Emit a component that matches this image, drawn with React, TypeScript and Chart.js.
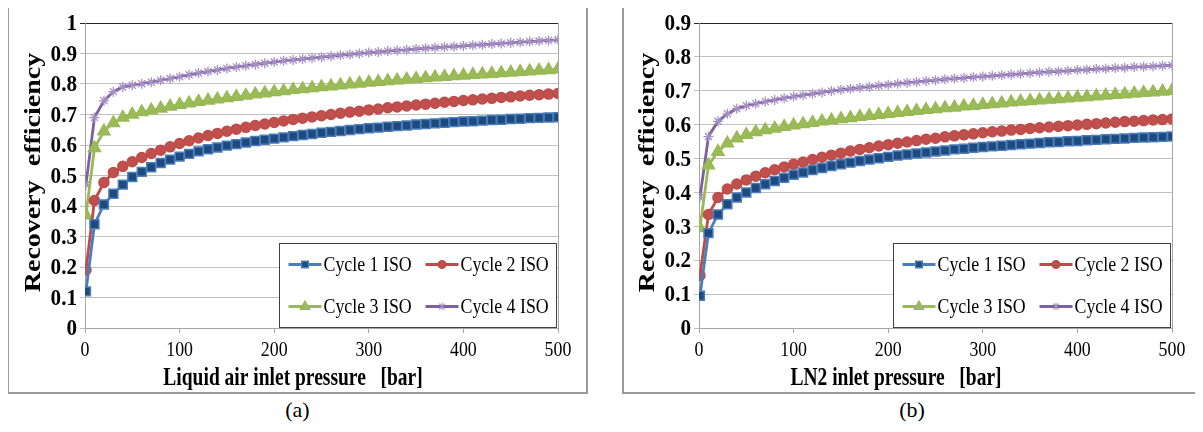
import React, { useEffect, useRef } from 'react';
import { Chart, registerables } from 'chart.js';
Chart.register(...registerables);

// ---------- data ----------
const pressure = [1, 10, 20, 30, 40, 50, 60, 70, 80, 90, 100, 110, 120, 130, 140, 150, 160, 170, 180, 190, 200, 210, 220, 230, 240, 250, 260, 270, 280, 290, 300, 310, 320, 330, 340, 350, 360, 370, 380, 390, 400, 410, 420, 430, 440, 450, 460, 470, 480, 490, 500];

const seriesNames = ['Cycle 1 ISO', 'Cycle 2 ISO', 'Cycle 3 ISO', 'Cycle 4 ISO'];

// (a) Liquid air
const airCycle1 = [0.12, 0.34, 0.405, 0.44, 0.47, 0.495, 0.512, 0.527, 0.541, 0.552, 0.562, 0.571, 0.579, 0.586, 0.592, 0.598, 0.603, 0.608, 0.613, 0.617, 0.621, 0.625, 0.629, 0.633, 0.636, 0.64, 0.643, 0.646, 0.649, 0.652, 0.655, 0.657, 0.66, 0.662, 0.664, 0.667, 0.669, 0.671, 0.673, 0.675, 0.677, 0.678, 0.68, 0.682, 0.683, 0.685, 0.686, 0.688, 0.689, 0.69, 0.691];
const airCycle2 = [0.19, 0.418, 0.477, 0.51, 0.53, 0.545, 0.559, 0.572, 0.583, 0.594, 0.605, 0.614, 0.623, 0.631, 0.638, 0.645, 0.652, 0.658, 0.664, 0.669, 0.674, 0.679, 0.684, 0.688, 0.692, 0.696, 0.7, 0.704, 0.708, 0.711, 0.715, 0.718, 0.722, 0.725, 0.728, 0.731, 0.734, 0.737, 0.74, 0.743, 0.746, 0.748, 0.751, 0.753, 0.756, 0.758, 0.761, 0.763, 0.765, 0.767, 0.769];
const airCycle3 = [0.37, 0.59, 0.645, 0.672, 0.69, 0.7, 0.708, 0.714, 0.72, 0.726, 0.732, 0.737, 0.742, 0.746, 0.75, 0.754, 0.758, 0.762, 0.766, 0.77, 0.774, 0.777, 0.781, 0.784, 0.787, 0.79, 0.793, 0.796, 0.799, 0.802, 0.805, 0.807, 0.81, 0.812, 0.815, 0.817, 0.82, 0.822, 0.824, 0.826, 0.828, 0.83, 0.832, 0.834, 0.836, 0.838, 0.84, 0.842, 0.844, 0.846, 0.848];
const airCycle4 = [0.47, 0.69, 0.745, 0.775, 0.79, 0.796, 0.801, 0.806, 0.812, 0.818, 0.824, 0.83, 0.836, 0.841, 0.846, 0.851, 0.856, 0.86, 0.864, 0.868, 0.872, 0.876, 0.879, 0.882, 0.885, 0.888, 0.891, 0.894, 0.897, 0.9, 0.903, 0.905, 0.908, 0.91, 0.912, 0.915, 0.917, 0.919, 0.921, 0.923, 0.925, 0.927, 0.929, 0.931, 0.933, 0.935, 0.937, 0.939, 0.941, 0.943, 0.945];

// (b) LN2
const ln2Cycle1 = [0.095, 0.28, 0.335, 0.365, 0.385, 0.4, 0.413, 0.424, 0.434, 0.443, 0.452, 0.459, 0.466, 0.472, 0.478, 0.483, 0.488, 0.493, 0.497, 0.501, 0.505, 0.509, 0.512, 0.515, 0.518, 0.521, 0.524, 0.527, 0.529, 0.532, 0.534, 0.536, 0.538, 0.54, 0.542, 0.544, 0.546, 0.548, 0.549, 0.551, 0.552, 0.554, 0.555, 0.557, 0.558, 0.559, 0.561, 0.562, 0.563, 0.564, 0.565];
const ln2Cycle2 = [0.155, 0.335, 0.385, 0.41, 0.425, 0.437, 0.448, 0.458, 0.467, 0.475, 0.483, 0.49, 0.497, 0.504, 0.51, 0.516, 0.522, 0.527, 0.532, 0.537, 0.541, 0.545, 0.549, 0.553, 0.557, 0.56, 0.564, 0.567, 0.57, 0.573, 0.576, 0.579, 0.581, 0.584, 0.586, 0.589, 0.591, 0.593, 0.595, 0.597, 0.599, 0.601, 0.603, 0.605, 0.607, 0.609, 0.61, 0.612, 0.614, 0.615, 0.617];
const ln2Cycle3 = [0.295, 0.48, 0.52, 0.545, 0.56, 0.57, 0.578, 0.584, 0.589, 0.594, 0.598, 0.602, 0.606, 0.61, 0.613, 0.617, 0.62, 0.623, 0.626, 0.629, 0.632, 0.635, 0.638, 0.641, 0.644, 0.646, 0.649, 0.651, 0.654, 0.656, 0.659, 0.661, 0.663, 0.666, 0.668, 0.67, 0.672, 0.674, 0.676, 0.678, 0.68, 0.682, 0.684, 0.686, 0.688, 0.69, 0.692, 0.694, 0.696, 0.698, 0.7];
const ln2Cycle4 = [0.385, 0.565, 0.61, 0.632, 0.647, 0.656, 0.662, 0.668, 0.673, 0.678, 0.683, 0.687, 0.691, 0.695, 0.699, 0.703, 0.706, 0.709, 0.712, 0.715, 0.718, 0.721, 0.724, 0.726, 0.729, 0.731, 0.734, 0.736, 0.738, 0.74, 0.742, 0.744, 0.746, 0.748, 0.75, 0.752, 0.754, 0.756, 0.757, 0.759, 0.761, 0.762, 0.764, 0.765, 0.767, 0.768, 0.77, 0.771, 0.772, 0.774, 0.775];

const xTickValues = [0, 100, 200, 300, 400, 500];
const xTickLabels = ['0', '100', '200', '300', '400', '500'];
const yTickValuesA = [0, 0.1, 0.2, 0.3, 0.4, 0.5, 0.6, 0.7, 0.8, 0.9, 1];
const yTickLabelsA = ['0', '0.1', '0.2', '0.3', '0.4', '0.5', '0.6', '0.7', '0.8', '0.9', '1'];
const yTickValuesB = [0, 0.1, 0.2, 0.3, 0.4, 0.5, 0.6, 0.7, 0.8, 0.9];
const yTickLabelsB = ['0', '0.1', '0.2', '0.3', '0.4', '0.5', '0.6', '0.7', '0.8', '0.9'];

const yTitle = 'Recovery  efficiency';
const xTitleA = 'Liquid air inlet pressure   [bar]';
const xTitleB = 'LN2 inlet pressure   [bar]';

// ---------- styles ----------
const FONT = '"Liberation Serif", "Times New Roman", serif';
const SX = 0.85;
const lineColors = ['#4A7EBB', '#BE4B48', '#98B954', '#7D60A0'];
const fillColors = ['#1F4A7E', '#C0504D', '#9BBB59', '#8064A2'];
const pointStyles = ['rect', 'circle', 'triangle', 'star'];
const pointRadii = [6.3, 5, 7, 5];

function drawMarker(ctx: CanvasRenderingContext2D, i: number, x: number, y: number, scale: number) {
  const r = pointRadii[i] * scale;
  ctx.save();
  ctx.fillStyle = fillColors[i];
  ctx.strokeStyle = lineColors[i];
  ctx.lineWidth = 1.5;
  ctx.beginPath();
  if (i === 0) {
    const s = r * Math.SQRT1_2;
    ctx.rect(x - s, y - s, 2 * s, 2 * s);
    ctx.fill(); ctx.stroke();
  } else if (i === 1) {
    ctx.arc(x, y, r, 0, Math.PI * 2);
    ctx.fill(); ctx.stroke();
  } else if (i === 2) {
    const h = r * 1.5;
    ctx.moveTo(x, y - r);
    ctx.lineTo(x + r * 0.866, y + h - r);
    ctx.lineTo(x - r * 0.866, y + h - r);
    ctx.closePath();
    ctx.fill(); ctx.stroke();
  } else {
    ctx.strokeStyle = '#A58FC4';
    ctx.lineWidth = 1.2;
    ctx.moveTo(x, y - r); ctx.lineTo(x, y + r);
    const d = r * 0.75;
    ctx.moveTo(x - d, y - d); ctx.lineTo(x + d, y + d);
    ctx.moveTo(x - d, y + d); ctx.lineTo(x + d, y - d);
    ctx.stroke();
  }
  ctx.restore();
}

function drawText(ctx: CanvasRenderingContext2D, text: string, x: number, y: number, font: string, align: CanvasTextAlign, rotate = false, sx = SX) {
  ctx.save();
  ctx.translate(x, y);
  if (rotate) {
    ctx.rotate(-Math.PI / 2);
    ctx.scale(1, sx);
  } else {
    ctx.scale(sx, 1);
  }
  ctx.font = font;
  ctx.fillStyle = '#000';
  ctx.textAlign = align;
  ctx.textBaseline = 'middle';
  ctx.fillText(text, 0, 0);
  ctx.restore();
}

type PanelProps = {
  left: number;
  width: number;
  plotLeft: number;
  series: number[][];
  yTicks: number[];
  yLabels: string[];
  xTitle: string;
  label: string;
  xTitleCenter: number;
  yTitleX: number;
};

const BOX_TOP = 3;
const BOX_H = 391;

function Panel(p: PanelProps) {
  const ref = useRef<HTMLCanvasElement>(null);
  const cw = p.width - 4;
  const ch = BOX_H - 4;
  useEffect(() => {
    const canvas = ref.current!;
    const yMax = p.yTicks[p.yTicks.length - 1];
    const framePlugin = {
      id: 'frame',
      beforeDatasetsDraw(chart: any) {
        const { ctx, chartArea: a } = chart;
        ctx.save();
        ctx.strokeStyle = '#A6A6A6';
        ctx.lineWidth = 1;
        const rx = Math.round(a.right) + 0.5;
        ctx.beginPath();
        ctx.moveTo(rx, a.top);
        ctx.lineTo(rx, a.bottom);
        ctx.stroke();
        ctx.restore();
      },
      afterDraw(chart: any) {
        const { ctx, chartArea: a, scales } = chart;
        // tick labels
        xTickValues.forEach((v, i) => {
          drawText(ctx, xTickLabels[i], scales.x.getPixelForValue(v), 345, `21px ${FONT}`, 'center');
        });
        p.yTicks.forEach((v, i) => {
          drawText(ctx, p.yLabels[i], a.left - 8, scales.y.getPixelForValue(v) + 1, `bold 24px ${FONT}`, 'right', false, 0.88);
        });
        // legend
        const lw = 277, lh = 84;
        const lx = Math.round(a.right - 2 - lw) + 0.5;
        const ly = Math.round(a.bottom - 1 - lh) + 0.5;
        ctx.save();
        ctx.fillStyle = '#fff';
        ctx.fillRect(lx, ly, lw, lh);
        ctx.strokeStyle = '#404040';
        ctx.lineWidth = 1;
        ctx.strokeRect(lx, ly, lw, lh);
        const cols = [9, 146];
        const rows = [21, 63];
        seriesNames.forEach((name, i) => {
          const cx = lx + cols[i % 2];
          const cy = ly + rows[Math.floor(i / 2)];
          ctx.strokeStyle = lineColors[i];
          ctx.lineWidth = 3;
          ctx.beginPath();
          ctx.moveTo(cx, cy);
          ctx.lineTo(cx + 33, cy);
          ctx.stroke();
          drawMarker(ctx, i, cx + 16.5, cy, 0.75);
          drawText(ctx, name, cx + 35, cy + 1, `21px ${FONT}`, 'left');
        });
        ctx.restore();
        // titles
        drawText(ctx, p.xTitle, p.xTitleCenter, 374, `bold 25px ${FONT}`, 'center', false, 0.78);
        drawText(ctx, yTitle, p.yTitleX, (a.top + a.bottom) / 2 - 3, `bold 28px ${FONT}`, 'center', true);
      },
    };
    const chart = new Chart(canvas, {
      type: 'line',
      data: {
        datasets: p.series.map((ys, i) => ({
          label: seriesNames[i],
          data: pressure.map((x, k) => ({ x, y: ys[k] })),
          borderColor: lineColors[i],
          backgroundColor: fillColors[i],
          pointBackgroundColor: fillColors[i],
          pointBorderColor: i === 3 ? '#A58FC4' : lineColors[i],
          pointBorderWidth: i === 3 ? 1.3 : 1.5,
          pointStyle: pointStyles[i] as any,
          pointRadius: pointRadii[i],
          borderWidth: 2.8,
          tension: 0,
          fill: false,
        })),
      },
      options: {
        animation: false,
        responsive: false,
        maintainAspectRatio: false,
        layout: { padding: { left: 0, right: cw - (p.plotLeft + 473), top: 18, bottom: 0 } },
        plugins: { legend: { display: false }, tooltip: { enabled: false }, title: { display: false } },
        scales: {
          x: {
            type: 'linear',
            min: 0,
            max: 500,
            afterBuildTicks: (s: any) => { s.ticks = xTickValues.map((v) => ({ value: v })); },
            afterFit: (s: any) => { s.height = ch - 18 - 305; },
            grid: { drawOnChartArea: false, drawTicks: true, tickLength: 5, color: '#A6A6A6' },
            border: { color: '#A6A6A6', width: 1 },
            ticks: { display: false },
          },
          y: {
            type: 'linear',
            min: 0,
            max: yMax,
            afterBuildTicks: (s: any) => { s.ticks = p.yTicks.map((v) => ({ value: v })); },
            afterFit: (s: any) => { s.width = p.plotLeft; },
            grid: {
              drawTicks: true,
              tickLength: 5,
              color: (c: any) => (c.tick && Math.abs(c.tick.value - yMax) < 1e-9 ? '#262626' : '#C0C0C0'),
            },
            border: { color: '#A6A6A6', width: 1 },
            ticks: { display: false },
          },
        },
      },
      plugins: [framePlugin],
    } as any);
    return () => chart.destroy();
  }, []);
  return (
    <>
      <div
        style={{
          position: 'absolute',
          left: p.left,
          top: BOX_TOP,
          width: p.width,
          height: BOX_H,
          boxSizing: 'border-box',
          border: '2px solid #9A9A9A',
          background: '#fff',
        }}
      >
        <canvas ref={ref} width={cw} height={ch} style={{ display: 'block', width: cw, height: ch }} />
      </div>
      <div
        style={{
          position: 'absolute',
          left: p.left,
          width: p.width,
          top: 397,
          textAlign: 'center',
          fontFamily: FONT,
          fontSize: 22,
          lineHeight: '26px',
          color: '#000',
        }}
      >
        {p.label}
      </div>
    </>
  );
}

export default function App() {
  useEffect(() => {
    document.body.style.overflow = 'hidden';
    document.body.style.background = '#fff';
  }, []);
  return (
    <div style={{ position: 'relative', width: 1187, height: 416 }}>
      <div style={{ position: 'absolute', left: -8, top: -8, width: 1203, height: 432 }}>
        <Panel
          left={7}
          width={581}
          plotLeft={76}
          series={[airCycle1, airCycle2, airCycle3, airCycle4]}
          yTicks={yTickValuesA}
          yLabels={yTickLabelsA}
          xTitle={xTitleA}
          label="(a)"
          xTitleCenter={284}
          yTitleX={25}
        />
        <Panel
          left={622}
          width={580}
          plotLeft={75}
          series={[ln2Cycle1, ln2Cycle2, ln2Cycle3, ln2Cycle4]}
          yTicks={yTickValuesB}
          yLabels={yTickLabelsB}
          xTitle={xTitleB}
          label="(b)"
          xTitleCenter={272}
          yTitleX={24}
        />
      </div>
    </div>
  );
}
